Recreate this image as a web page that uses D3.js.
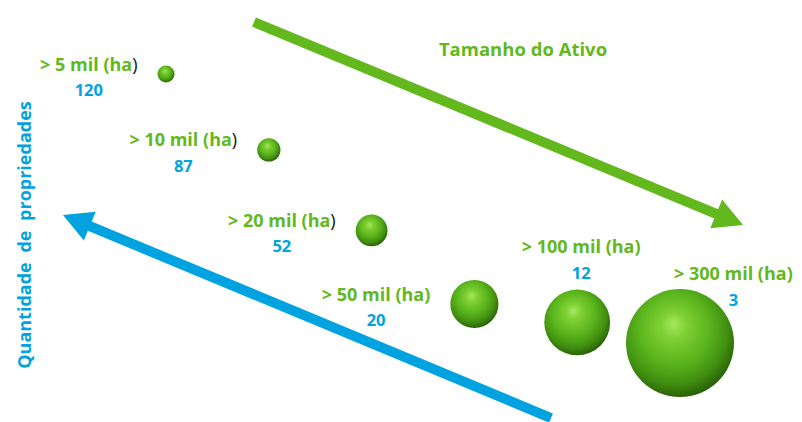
<!DOCTYPE html>
<html><head><meta charset="utf-8">
<script src="https://cdn.jsdelivr.net/npm/d3@7"></script>
<style>body{margin:0;background:#fff} svg{display:block}</style>
</head><body><svg id="c" width="802" height="422"></svg>
<script>
// ---- data ----
const categories = ["> 5 mil (ha)", "> 10 mil (ha)", "> 20 mil (ha)", "> 50 mil (ha)", "> 100 mil (ha)", "> 300 mil (ha)"];
const areaHa = [5, 10, 20, 50, 100, 300];
const propertyCounts = [120, 87, 52, 20, 12, 3];
const xTitle = "Tamanho do Ativo";
const yTitle = "Quantidade de propriedades";

// ---- style ----
const GREEN = "#62B81C", BLUE = "#00A3E0";
const FONT = "'Open Sans', sans-serif";

const svg = d3.select("#c");
const defs = svg.append("defs");
const g = defs.append("radialGradient").attr("id", "sphere")
  .attr("cx", "45%").attr("cy", "40%").attr("r", "60%").attr("fx", "44%").attr("fy", "32%");
[[0, "#A8E860"], [0.2, "#7FD034"], [0.55, "#5AB41C"], [0.82, "#408F10"], [1, "#2A6208"]]
  .forEach(([o, c]) => g.append("stop").attr("offset", o).attr("stop-color", c));

// ---- scales ----
const x = d3.scalePoint().domain(categories).range([166, 680]);
const y = d3.scaleLinear().domain([0, 120]).range([350, 74]);
const r = d3.scalePow().exponent(0.45).domain([5, 300]).range([8.5, 54]);

const rows = categories.map((c, i) => ({cat: c, ha: areaHa[i], n: propertyCounts[i], i}));

// ---- arrows ----
function arrow(x1, y1, x2, y2, w, hl, hw, color) {
  const dx = x2 - x1, dy = y2 - y1, L = Math.hypot(dx, dy);
  const ux = dx / L, uy = dy / L, px = -uy, py = ux;
  const bx = x2 - ux * hl, by = y2 - uy * hl;
  const pts = [
    [x1 + px * w / 2, y1 + py * w / 2], [bx + px * w / 2, by + py * w / 2],
    [bx + px * hw / 2, by + py * hw / 2], [x2, y2],
    [bx - px * hw / 2, by - py * hw / 2], [bx - px * w / 2, by - py * w / 2],
    [x1 - px * w / 2, y1 - py * w / 2]];
  svg.append("path").attr("d", d3.line()(pts) + "Z").attr("fill", color);
}
arrow(254, 22, 743, 225, 10, 29, 31, GREEN);
arrow(551, 418, 63, 215, 10, 29, 31, BLUE);

// ---- titles ----
svg.append("text").attr("x", 523).attr("y", 56).attr("text-anchor", "middle")
  .attr("font-family", FONT).attr("font-weight", 700).attr("font-size", 18.5)
  .attr("fill", GREEN).text(xTitle);
svg.append("text").attr("transform", "translate(31,235) rotate(-90)").attr("text-anchor", "middle")
  .attr("font-family", FONT).attr("font-weight", 700).attr("font-size", 18).attr("word-spacing", 5)
  .attr("fill", BLUE).text(yTitle);

// ---- spheres ----
svg.selectAll("circle.s").data(rows).join("circle").attr("class", "s")
  .attr("cx", d => x(d.cat)).attr("cy", d => y(d.n)).attr("r", d => r(d.ha))
  .attr("fill", "url(#sphere)");

// ---- labels ----
rows.forEach(d => {
  const cx = x(d.cat), cy = y(d.n), rr = r(d.ha);
  let lx, ly, anchor;
  if (d.i < 4) { lx = cx - rr - 20; ly = cy - 3.5; anchor = "end"; }
  else if (d.i === 4) { lx = cx + 4; ly = cy - rr - 36; anchor = "middle"; }
  else { lx = cx - 6; ly = cy - rr - 9; anchor = "start"; }
  const t = svg.append("text").attr("x", lx).attr("y", ly).attr("text-anchor", anchor)
    .attr("font-family", FONT).attr("font-weight", 700).attr("font-size", 18)
    .attr("fill", GREEN);
  t.append("tspan").text(d.cat.slice(0, -1));
  t.append("tspan").attr("fill", d.i < 3 ? "#111" : GREEN)
    .attr("font-weight", d.i < 3 ? 400 : 700).text(d.cat.slice(-1));
  const bb = t.node().getBBox();
  svg.append("text").attr("x", bb.x + bb.width / 2).attr("y", ly + 25.5).attr("text-anchor", "middle")
    .attr("font-family", FONT).attr("font-weight", 700).attr("font-size", 16.5)
    .attr("fill", BLUE).text(d.n);
});
</script></body></html>
